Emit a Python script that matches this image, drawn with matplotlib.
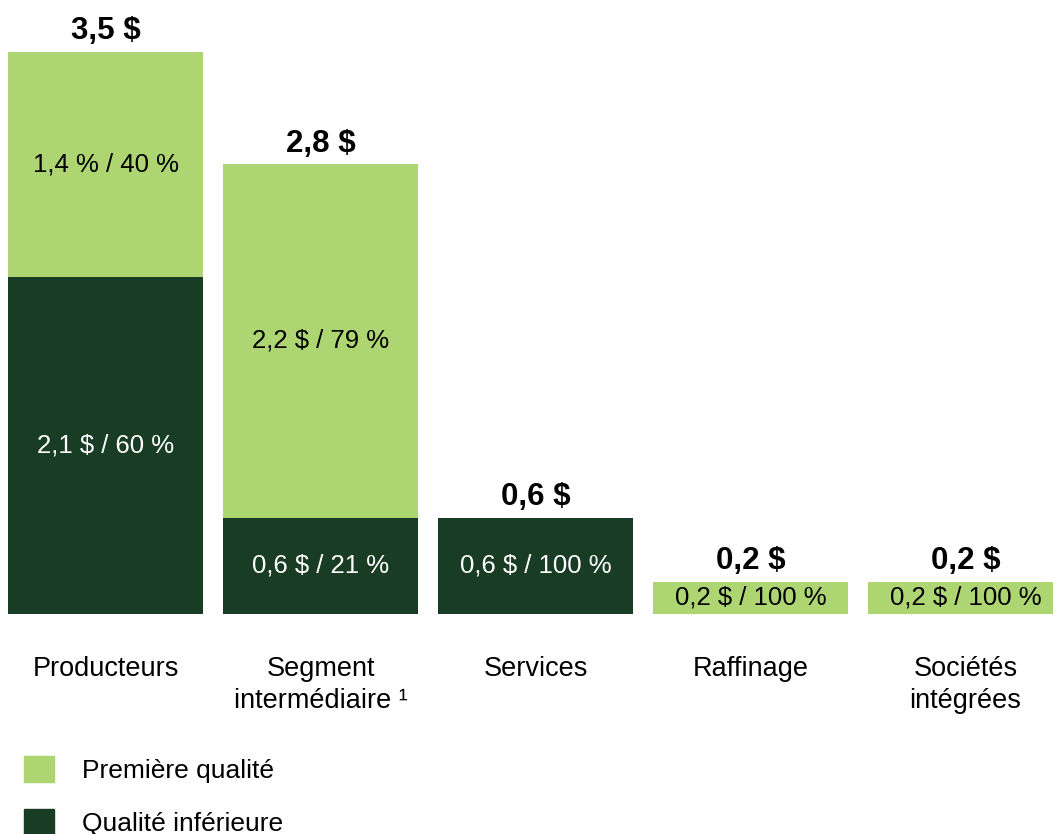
import numpy as np
from matplotlib import pyplot as plt
from matplotlib.patches import Patch

plt.rcParams['font.family'] = ['Liberation Sans', 'DejaVu Sans']

# Data (milliards $)
categories = ["Producteurs", "Segment\nintermédiaire ¹", "Services", "Raffinage", "Sociétés\nintégrées"]
premiere = [1.4, 2.2, 0.0, 0.2, 0.2]
inferieure = [2.1, 0.6, 0.6, 0.0, 0.0]
totals = ["3,5 $", "2,8 $", "0,6 $", "0,2 $", "0,2 $"]
premiere_labels = ["1,4 % / 40 %", "2,2 $ / 79 %", "", "0,2 $ / 100 %", "0,2 $ / 100 %"]
inferieure_labels = ["2,1 $ / 60 %", "0,6 $ / 21 %", "0,6 $ / 100 %", "", ""]

light_green = "#ADD673"
dark_green = "#193C24"

fig = plt.figure(figsize=(10.53, 8.34), dpi=100)
ax = fig.add_axes([0, 220 / 834, 1, 614 / 834])

x = np.arange(len(categories))
width = 195 / 215
ax.bar(x, inferieure, width, color=dark_green)
ax.bar(x, premiere, width, bottom=inferieure, color=light_green)

for i in x:
    low = inferieure[i]
    high = premiere[i]
    if inferieure_labels[i]:
        ax.text(i, low / 2, inferieure_labels[i], ha='center', va='center',
                color='white', fontsize=18.5)
    if premiere_labels[i]:
        ax.text(i, low + high / 2, premiere_labels[i], ha='center', va='center',
                color='black', fontsize=18.5)
    ax.annotate(totals[i], (i, low + high), xytext=(0, 9), textcoords='offset points',
                ha='center', va='baseline', fontsize=22.5, fontweight='bold')

ax.set_xlim(-105.5 / 215, (1053 - 105.5) / 215)
ax.set_ylim(0, 614 / 160.6)
ax.set_xticks(x)
ax.set_xticklabels(categories, fontsize=19.5, linespacing=1.3)
ax.tick_params(axis='x', length=0, pad=30)
ax.set_yticks([])
for spine in ax.spines.values():
    spine.set_visible(False)

handles = [Patch(color=light_green, label="Première qualité"),
           Patch(color=dark_green, label="Qualité inférieure")]
fig.legend(handles=handles, loc='upper left', bbox_to_anchor=(24 / 1053, 1 - 756 / 834),
           frameon=False, fontsize=19, handlelength=1.14, handleheight=1.14,
           handletextpad=1.06, labelspacing=0.98, borderpad=0, borderaxespad=0)

fig.savefig("out.png", dpi=100)
